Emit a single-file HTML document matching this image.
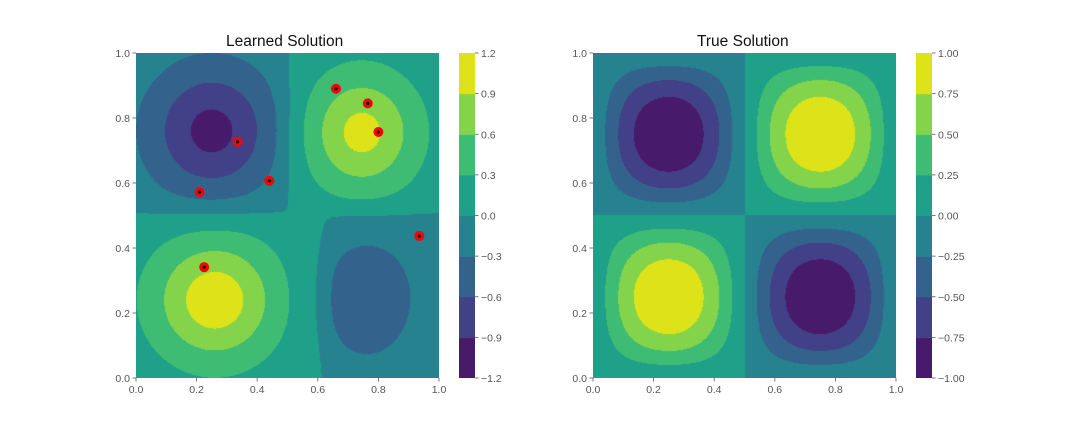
<!DOCTYPE html>
<html><head><meta charset="utf-8"><style>
body{margin:0;background:#fff;width:1080px;height:432px;overflow:hidden;font-family:"Liberation Sans",sans-serif;}
#wrap{position:relative;width:1080px;height:432px;}
canvas{position:absolute;}
.title{position:absolute;font-size:15.5px;color:#111;}
</style></head><body>
<div id="wrap">
<canvas id="c1" width="303" height="325" style="left:136px;top:53px"></canvas>
<canvas id="c2" width="303" height="325" style="left:593px;top:53px"></canvas>
<canvas id="cb1" width="16" height="325" style="left:459px;top:53px"></canvas>
<canvas id="cb2" width="16" height="325" style="left:916px;top:53px"></canvas>
<svg id="ov" width="1080" height="432" style="position:absolute;left:0;top:0"></svg>
<div class="title" style="left:226px;top:33px">Learned Solution</div>
<div class="title" style="left:697px;top:33px">True Solution</div>
</div>
<script>
const colors=["#481a6c","#424086","#33638d","#26828e","#1fa088","#3fbc73","#84d44b","#dde318"];
const learnedLevels=[-1.2,-0.9,-0.6,-0.3,0.0,0.3,0.6,0.9,1.2];
const learnedLevelLabels=["\u22121.2","\u22120.9","\u22120.6","\u22120.3","0.0","0.3","0.6","0.9","1.2"];
const trueLevels=[-1,-0.75,-0.5,-0.25,0,0.25,0.5,0.75,1];
const trueLevelLabels=["\u22121.00","\u22120.75","\u22120.50","\u22120.25","0.00","0.25","0.50","0.75","1.00"];
const axisTicks=[0,0.2,0.4,0.6,0.8,1.0];
const axisTickLabels=["0.0","0.2","0.4","0.6","0.8","1.0"];
// learned-solution bumps
const bumpAmp=[-0.88,0.88,0.98,-0.43];
const bumpCx=[0.25,0.745,0.26,0.76];
const bumpCy=[0.76,0.755,0.24,0.245];
const bumpSx=[0.14,0.125,0.14,0.11];
const bumpSy=[0.135,0.125,0.13,0.13];
const bgMag=[-0.12,0.12,0.12,-0.12]; // TL, TR, BL, BR
// sample points
const ptsX=[0.66,0.765,0.80,0.335,0.21,0.44,0.935,0.225];
const ptsY=[0.89,0.845,0.757,0.727,0.572,0.607,0.437,0.341];

const ns="http://www.w3.org/2000/svg";
const ov=document.getElementById('ov');
function el(tag,attrs){const e=document.createElementNS(ns,tag);for(const k in attrs)e.setAttribute(k,attrs[k]);ov.appendChild(e);return e;}
function learned(x,y){
  const sx=1/(1+Math.exp(-(x-(y>0.5?0.5:0.62))*60));
  const sy=1/(1+Math.exp(-(y-0.51)*60));
  let f=bgMag[0]*(1-sx)*sy+bgMag[1]*sx*sy+bgMag[2]*(1-sx)*(1-sy)+bgMag[3]*sx*(1-sy);
  for(let i=0;i<bumpAmp.length;i++){
    const dx=(x-bumpCx[i])/bumpSx[i],dy=(y-bumpCy[i])/bumpSy[i];
    f+=bumpAmp[i]*Math.exp(-0.5*(dx*dx+dy*dy));
  }
  return f;
}
function truef(x,y){return Math.sin(2*Math.PI*x)*Math.sin(2*Math.PI*y);}
function bin(v,lv){for(let i=0;i<lv.length-2;i++){if(v<lv[i+1])return i;}return lv.length-2;}
function hex(c){return [parseInt(c.slice(1,3),16),parseInt(c.slice(3,5),16),parseInt(c.slice(5,7),16)];}
const rgb=colors.map(hex);
function draw(id,fn,lv){
  const c=document.getElementById(id),ctx=c.getContext('2d'),W=c.width,H=c.height;
  const img=ctx.createImageData(W,H);
  for(let j=0;j<H;j++)for(let i=0;i<W;i++){
    const x=(i+0.5)/W,y=1-(j+0.5)/H;
    const col=rgb[bin(fn(x,y),lv)];const k=(j*W+i)*4;
    img.data[k]=col[0];img.data[k+1]=col[1];img.data[k+2]=col[2];img.data[k+3]=255;
  }
  ctx.putImageData(img,0,0);
}
draw('c1',learned,learnedLevels);
draw('c2',truef,trueLevels);
function cbar(id){
  const c=document.getElementById(id),ctx=c.getContext('2d');
  const n=colors.length,h=c.height/n;
  for(let i=0;i<n;i++){ctx.fillStyle=colors[i];ctx.fillRect(0,c.height-(i+1)*h,c.width,h+0.5);}
}
cbar('cb1');cbar('cb2');
function axes(x0,y0,w,h,prefix){
  for(let i=0;i<axisTicks.length;i++){
    const px=x0+axisTicks[i]*w, py=y0+h-axisTicks[i]*h;
    let l=el('line',{x1:px,y1:y0+h,x2:px,y2:y0+h+3.5,stroke:'#555','stroke-width':0.8});
    
    
    let t=el('text',{x:px,y:y0+h+15,'text-anchor':'middle','font-size':10.5,fill:'#555','font-family':'Liberation Sans'});
    t.textContent=axisTickLabels[i];
    
    
    l=el('line',{x1:x0-3.5,y1:py,x2:x0,y2:py,stroke:'#555','stroke-width':0.8});
    
    
    t=el('text',{x:x0-6,y:py+4,'text-anchor':'end','font-size':10.5,fill:'#555','font-family':'Liberation Sans'});
    t.textContent=axisTickLabels[i];
    
    
  }
}
axes(136,53,303,325,'learned');
axes(593,53,303,325,'true');
function cbTicks(x0,y0,h,lv,labels,prefix){
  const lo=lv[0],hi=lv[lv.length-1];
  for(let i=0;i<lv.length;i++){
    const py=y0+h-(lv[i]-lo)/(hi-lo)*h;
    const l=el('line',{x1:x0,y1:py,x2:x0+3.5,y2:py,stroke:'#555','stroke-width':0.8});
    
    
    const t=el('text',{x:x0+6,y:py+4,'font-size':10.5,fill:'#555','font-family':'Liberation Sans'});
    t.textContent=labels[i];
    
    
  }
}
cbTicks(475,53,325,learnedLevels,learnedLevelLabels,'learned');
cbTicks(932,53,325,trueLevels,trueLevelLabels,'true');
for(let i=0;i<ptsX.length;i++){
  const px=136+ptsX[i]*303,py=53+325-ptsY[i]*325;
  const c=el('circle',{cx:px,cy:py,r:5,fill:'#ff0000'});
  
  
  const d=el('circle',{cx:px,cy:py,r:1.6,fill:'#000'});
  
  
}
</script>
</body></html>
